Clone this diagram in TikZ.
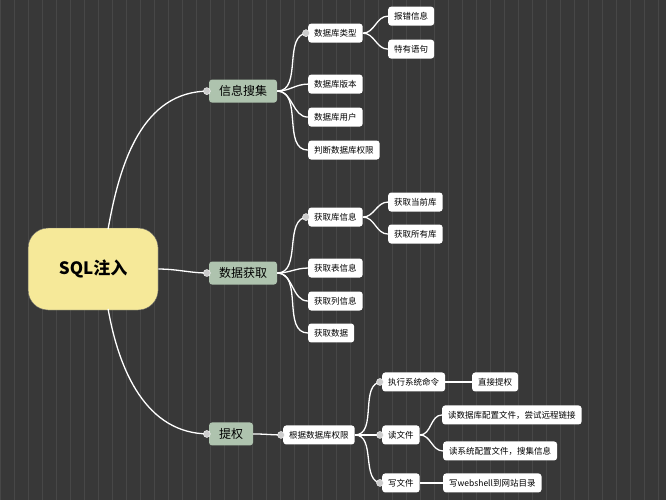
\documentclass[tikz,border=0pt]{standalone}
\usepackage{fontspec}
\setmainfont{Noto Sans CJK SC}
\begin{document}
\begin{tikzpicture}[x=1pt,y=-1pt,
  bg/.style={fill=black!78!blue!5},
  root/.style={draw=black!60,fill=yellow!35!white!85!brown,rounded corners=20pt,minimum width=130pt,minimum height=82pt,font=\fontsize{17}{17}\selectfont\bfseries},
  l1/.style={fill=green!15!gray!55!white,rounded corners=3pt,minimum height=23pt,inner xsep=10pt,font=\fontsize{12}{12}\selectfont},
  l2/.style={fill=white,rounded corners=3pt,minimum height=19pt,inner xsep=6pt,font=\fontsize{8.5}{9}\selectfont},
  cn/.style={white,line width=1.3pt},
  kn/.style={circle,fill=gray!40,draw=white,inner sep=0pt,minimum size=7pt}]
\fill[black!78] (0,0) rectangle (666,500);
\draw[black!72,line width=0.3pt,step=14] (0,0) grid (666,500);
\useasboundingbox (0,0) rectangle (666,500);
\node[root] (r) at (93,269) {SQL注入};
\node[l1] (a) at (243,91) {信息搜集};
\node[l1] (b) at (243,273) {数据获取};
\node[l1] (c) at (231,434) {提权};
\node[l2,anchor=west] (a1) at (308,33) {数据库类型};
\node[l2,anchor=west] (a2) at (308,84) {数据库版本};
\node[l2,anchor=west] (a3) at (308,117) {数据库用户};
\node[l2,anchor=west] (a4) at (308,150) {判断数据库权限};
\node[l2,anchor=west] (a11) at (388,16) {报错信息};
\node[l2,anchor=west] (a12) at (388,49) {特有语句};
\node[l2,anchor=west] (b1) at (308,217) {获取库信息};
\node[l2,anchor=west] (b2) at (308,268) {获取表信息};
\node[l2,anchor=west] (b3) at (308,301) {获取列信息};
\node[l2,anchor=west] (b4) at (308,333) {获取数据};
\node[l2,anchor=west] (b11) at (388,202) {获取当前库};
\node[l2,anchor=west] (b12) at (388,234) {获取所有库};
\node[l2,anchor=west] (c1) at (283,435) {根据数据库权限};
\node[l2,anchor=west] (c11) at (382,382) {执行系统命令};
\node[l2,anchor=west] (c12) at (382,435) {读文件};
\node[l2,anchor=west] (c13) at (382,483) {写文件};
\node[l2,anchor=west] (d1) at (472,382) {直接提权};
\node[l2,anchor=west] (d2) at (442,415) {读数据库配置文件，尝试远程链接};
\node[l2,anchor=west] (d3) at (443,451) {读系统配置文件，搜集信息};
\node[l2,anchor=west] (d4) at (443,483) {写webshell到网站目录};
\coordinate (rt) at (108,229);
\coordinate (rb) at (108,309);
\draw[cn] (rt) to[out=80,in=180] (a.west);
\draw[cn] (r.east) to[out=0,in=180] (b.west);
\draw[cn] (rb) to[out=-80,in=180] (c.west);
\foreach \p/\k in {a/a1,a/a2,a/a3,a/a4,a1/a11,a1/a12,b/b1,b/b2,b/b3,b/b4,b1/b11,b1/b12,c/c1,c1/c11,c1/c12,c1/c13,c11/d1,c12/d2,c12/d3,c13/d4}
  \draw[cn] (\p.east) to[out=0,in=180] (\k.west);
\foreach \k in {a,b,c,a1,b1,c1,c11,c12,c13}
  \node[kn] at ([xshift=-2pt]\k.west) {};
\end{tikzpicture}
\end{document}
